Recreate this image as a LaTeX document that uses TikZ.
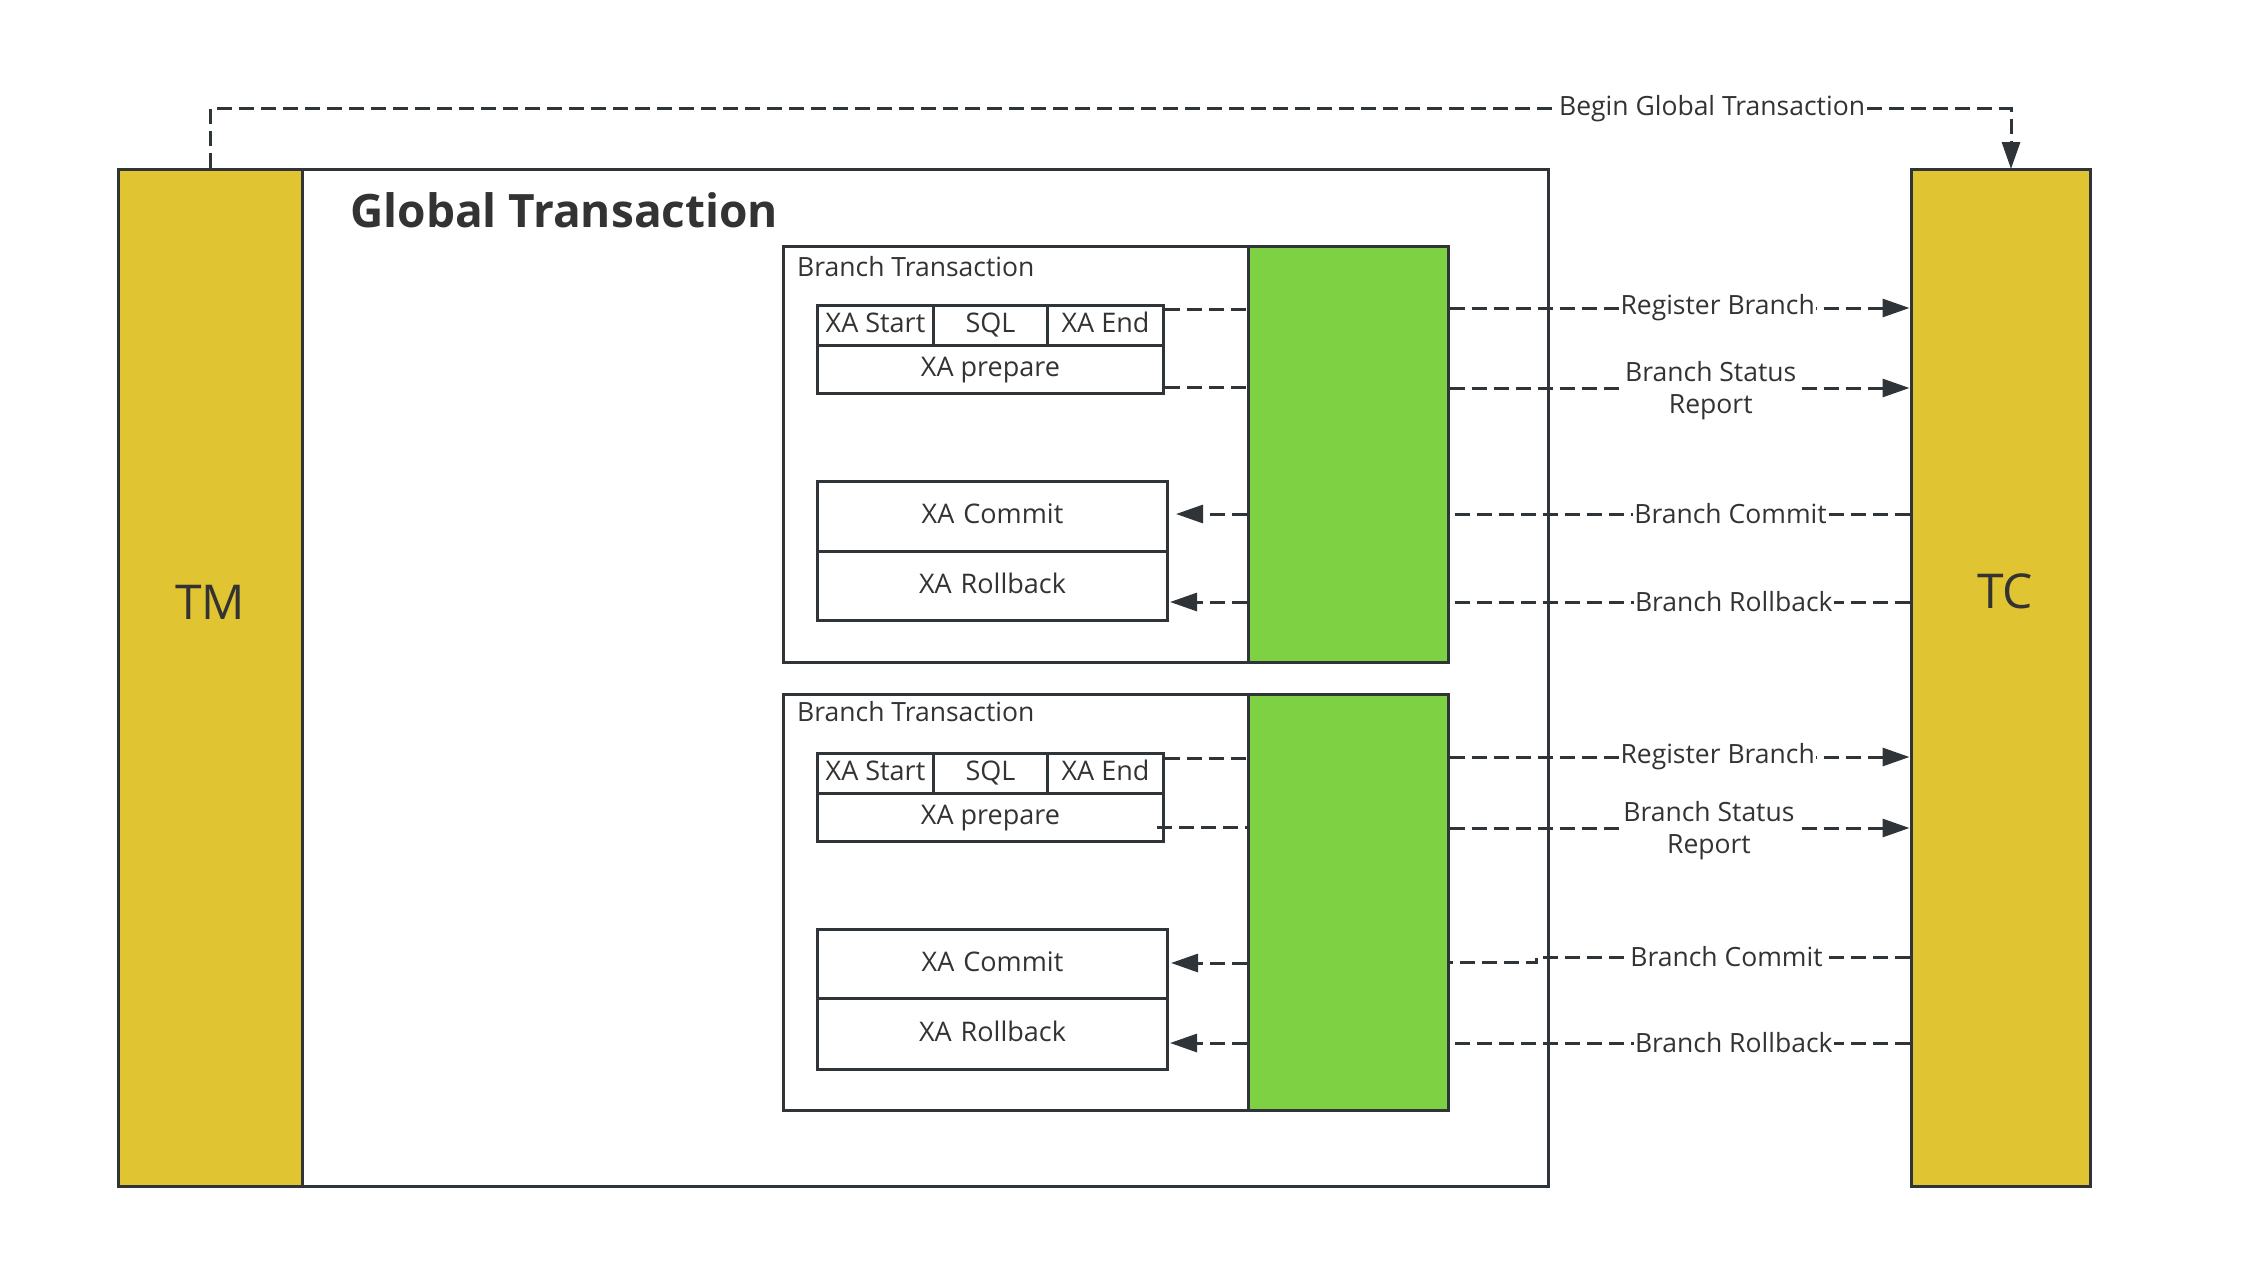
\documentclass[tikz,border=0pt]{standalone}
\usepackage{fontspec}
\setmainfont{Open Sans}
\usetikzlibrary{arrows.meta,fit,calc}
\definecolor{ybox}{HTML}{E0C431}
\definecolor{gbox}{HTML}{7DD143}
\definecolor{ln}{HTML}{2F3438}
\definecolor{tx}{HTML}{333333}
\begin{document}
\begin{tikzpicture}[x=1pt,y=-1pt,
  box/.style={draw=ln, line width=3pt, inner sep=0pt, fill=white},
  ybar/.style={box, fill=ybox},
  gbar/.style={box, fill=gbox},
  cell/.style={box, text=tx, font=\fontsize{27}{30}\selectfont, anchor=north west, text height=20pt, text depth=6pt},
  lcell/.style={cell, text width=330pt, align=center},
  dl/.style={draw=ln, line width=3pt, dash pattern=on 15pt off 7pt},
  arr/.style={-{Triangle[length=27pt,width=18pt]}},
  lbl/.style={fill=white, text=tx, font=\fontsize{26.5}{32}\selectfont, inner xsep=1pt, inner ysep=0pt, align=center},
  big/.style={text=tx, font=\fontsize{48}{48}\selectfont},
]
\useasboundingbox (0,0) rectangle (2260,1272);
% main boxes
\node[box, fit={(118,169)(1548,1186)}] (gt) {};
\node[ybar, fit={(118,169)(302,1186)}] (tm) {};
\node[ybar, fit={(1911,169)(2090,1186)}] (tc) {};
\node[big] (tmlbl) at (210,602) {TM};
\node[big] (tclbl) at (2005,591) {TC};
\node[text=tx, font=\bfseries\fontsize{46}{46}\selectfont, anchor=west, inner sep=0pt] (title) at (350,210) {Global Transaction};
% branch 1
\node[box, fit={(783,246)(1248,662)}] (b1) {};
\node[gbar, fit={(1248,246)(1448,662)}] (g1) {};
\node[text=tx, font=\fontsize{26.5}{30}\selectfont, anchor=west, inner sep=0pt] (b1lbl) at (797,267) {Branch Transaction};
\node[cell, minimum width=116pt, minimum height=40pt] (s1) at (816,304) {XA Start};
\node[cell, minimum width=114pt, minimum height=40pt] (q1) at (932,304) {SQL};
\node[cell, minimum width=116pt, minimum height=40pt] (e1) at (1046,304) {XA End};
\node[cell, minimum width=346pt, minimum height=48pt] (p1) at (816,344) {XA prepare};
\node[cell, minimum width=350pt, minimum height=70pt, inner xsep=0pt, text width=338pt, align=center] (c1) at (816,480) {XA Commit};
\node[cell, minimum width=350pt, minimum height=69pt, inner xsep=0pt, text width=338pt, align=center] (r1) at (816,550) {XA Rollback};
% branch 2
\node[box, fit={(783,694)(1248,1110)}] (b2) {};
\node[gbar, fit={(1248,694)(1448,1110)}] (g2) {};
\node[text=tx, font=\fontsize{26.5}{30}\selectfont, anchor=west, inner sep=0pt] (b2lbl) at (797,712) {Branch Transaction};
\node[cell, minimum width=116pt, minimum height=40pt] (s2) at (816,752) {XA Start};
\node[cell, minimum width=114pt, minimum height=40pt] (q2) at (932,752) {SQL};
\node[cell, minimum width=116pt, minimum height=40pt] (e2) at (1046,752) {XA End};
\node[cell, minimum width=346pt, minimum height=48pt] (p2) at (816,792) {XA prepare};
\node[cell, minimum width=350pt, minimum height=69pt, inner xsep=0pt, text width=338pt, align=center] (c2) at (816,928) {XA Commit};
\node[cell, minimum width=350pt, minimum height=71pt, inner xsep=0pt, text width=338pt, align=center] (r2) at (816,997) {XA Rollback};
% begin global transaction
\coordinate (tcin) at (2011,169);
\draw[dl, arr] (tm.north) -- ++(0,-59) -| node[lbl, pos=0.417] {Begin Global Transaction} (tcin);
% branch 1 connectors
\draw[dl] (e1.east |- 0,309) -- (g1.west |- 0,309);
\draw[dl, arr] (g1.east |- 0,308) -- node[lbl, pos=0.583] {Register Branch} (tc.west |- 0,308);
\draw[dl] (p1.east |- 0,387) -- (g1.west |- 0,387);
\draw[dl, arr] (g1.east |- 0,388) -- node[lbl, pos=0.568, yshift=-3pt] {Branch Status\\Report} (tc.west |- 0,388);
\draw[dl] (tc.west |- 0,514) -- node[lbl, pos=0.389] {Branch Commit} (g1.east |- 0,514);
\draw[dl, arr, shorten >=7pt] (g1.west |- 0,514) -- (c1.east |- 0,514);
\draw[dl] (tc.west |- 0,602) -- node[lbl, pos=0.382] {Branch Rollback} (g1.east |- 0,602);
\draw[dl, arr, shorten >=1pt] (g1.west |- 0,602) -- (r1.east |- 0,602);
% branch 2 connectors
\draw[dl] (e2.east |- 0,758) -- (g2.west |- 0,758);
\draw[dl, arr] (g2.east |- 0,757) -- node[lbl, pos=0.583] {Register Branch} (tc.west |- 0,757);
\draw[dl] ([xshift=-8pt]p2.east |- 0,827) -- (g2.west |- 0,827);
\draw[dl, arr] (g2.east |- 0,828) -- node[lbl, pos=0.564, yshift=-3pt] {Branch Status\\Report} (tc.west |- 0,828);
\draw[dl] (tc.west |- 0,957) -- node[lbl, pos=0.49] {Branch Commit} (1536,957) -- (1536,962) -- (g2.east |- 0,962);
\draw[dl, arr, shorten >=2pt] (g2.west |- 0,963) -- (c2.east |- 0,963);
\draw[dl] (tc.west |- 0,1043) -- node[lbl, pos=0.382] {Branch Rollback} (g2.east |- 0,1043);
\draw[dl, arr, shorten >=1pt] (g2.west |- 0,1043) -- (r2.east |- 0,1043);
\end{tikzpicture}
\end{document}
